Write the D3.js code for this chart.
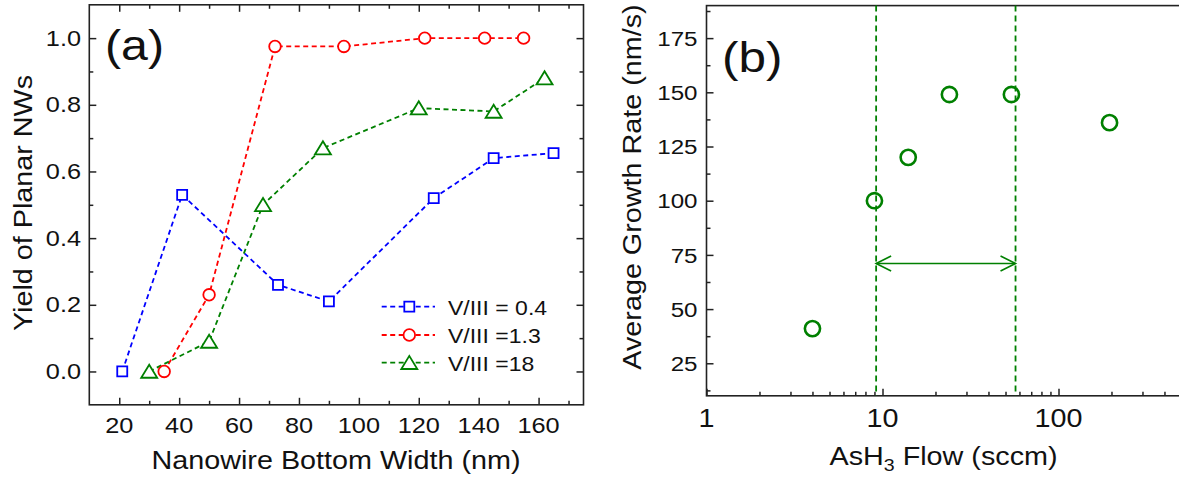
<!DOCTYPE html>
<html><head><meta charset="utf-8">
<script src="https://cdn.jsdelivr.net/npm/d3@7"></script>
<style>
body{margin:0;background:#fff}
svg{display:block;background:#fff}
text{font-family:"Liberation Sans",Arial,sans-serif;fill:#111}
</style>
</head><body>
<svg id="chart" width="1179" height="479"></svg>
<script>
// ---------- data: panel (a) ----------
const seriesNames = ["V/III = 0.4", "V/III =1.3", "V/III =18"];
const widthBlue  = [21, 41, 73, 90, 125, 145, 165];
const yieldBlue  = [0.0, 0.53, 0.26, 0.21, 0.52, 0.64, 0.655];
const widthRed   = [35, 50, 72, 95, 122, 142, 155];
const yieldRed   = [0.0, 0.23, 0.975, 0.975, 1.0, 1.0, 1.0];
const widthGreen = [30, 50, 68, 88, 120, 145, 162];
const yieldGreen = [0.0, 0.09, 0.50, 0.67, 0.79, 0.78, 0.88];
const xTicksA = [20, 40, 60, 80, 100, 120, 140, 160];
const yTicksA = [0.0, 0.2, 0.4, 0.6, 0.8, 1.0];

// ---------- data: panel (b) ----------
const ashFlow = [4, 9, 14, 24, 54, 195];
const growthRate = [41, 100, 120, 149, 149, 136];
const windowFlow = [9.2, 57];
const arrowRate = 71;
const xTicksB = [1, 10, 100];
const yTicksB = [25, 50, 75, 100, 125, 150, 175];

const SX = 1.15; // horizontal text stretch to match the reference's wide glyphs
const svg = d3.select("#chart");

function txt(g, x, y, s, size, anchor, rot) {
  const t = g.append("text")
    .attr("transform", `translate(${x},${y})` + (rot ? ` rotate(${rot})` : "") + ` scale(${SX},1)`)
    .attr("font-size", size)
    .attr("text-anchor", anchor || "start");
  if (s !== null) t.text(s);
  return t;
}

function tickAxis(g, axis, cls) {
  const a = g.append("g").attr("class", cls).call(axis);
  a.select(".domain").remove();
  a.selectAll("line").attr("stroke", "#222").attr("stroke-width", 1.5);
  a.selectAll("text").remove();
  return a;
}

// ================= Panel (a) =================
const xA = d3.scaleLinear().domain([10, 175]).range([89.3, 583.5]);
const yA = d3.scaleLinear().domain([-0.1, 1.1]).range([404.8, 4.8]);
const gA = svg.append("g");

const xMinorA = d3.range(30, 175, 20);
const yMinorA = [0.1, 0.3, 0.5, 0.7, 0.9];

// ticks inward on all 4 sides
tickAxis(gA.append("g").attr("transform", `translate(0,${yA(-0.1)})`), d3.axisBottom(xA).tickValues(xTicksA).tickSize(-7), "xb");
tickAxis(gA.append("g").attr("transform", `translate(0,${yA(-0.1)})`), d3.axisBottom(xA).tickValues(xMinorA).tickSize(-4), "xbm");
tickAxis(gA.append("g").attr("transform", `translate(0,${yA(1.1)})`), d3.axisTop(xA).tickValues(xTicksA).tickSize(-7), "xt");
tickAxis(gA.append("g").attr("transform", `translate(0,${yA(1.1)})`), d3.axisTop(xA).tickValues(xMinorA).tickSize(-4), "xtm");
tickAxis(gA.append("g").attr("transform", `translate(${xA(10)},0)`), d3.axisLeft(yA).tickValues(yTicksA).tickSize(-7), "yl");
tickAxis(gA.append("g").attr("transform", `translate(${xA(10)},0)`), d3.axisLeft(yA).tickValues(yMinorA).tickSize(-4), "ylm");
tickAxis(gA.append("g").attr("transform", `translate(${xA(175)},0)`), d3.axisRight(yA).tickValues(yTicksA).tickSize(-7), "yr");
tickAxis(gA.append("g").attr("transform", `translate(${xA(175)},0)`), d3.axisRight(yA).tickValues(yMinorA).tickSize(-4), "yrm");

gA.append("rect")
  .attr("x", xA(10)).attr("y", yA(1.1))
  .attr("width", xA(175) - xA(10)).attr("height", yA(-0.1) - yA(1.1))
  .attr("fill", "none").attr("stroke", "#222").attr("stroke-width", 1.6);

xTicksA.forEach(v => txt(gA, xA(v), 433, String(v), 22, "middle"));
yTicksA.forEach(v => txt(gA, 81, yA(v) + 7.5, d3.format(".1f")(v), 22, "end"));

txt(gA, 336, 469, "Nanowire Bottom Width (nm)", 25, "middle");
txt(gA, 32, 203, "Yield of Planar NWs", 25, "middle", -90);
txt(gA, 105, 60, "(a)", 42, "start");

const colors = ["#0000ff", "#ff0000", "#008000"];
const seriesA = [
  {x: widthBlue, y: yieldBlue, c: colors[0], m: "square"},
  {x: widthRed, y: yieldRed, c: colors[1], m: "circle"},
  {x: widthGreen, y: yieldGreen, c: colors[2], m: "triangle"}
];

function marker(g, type, x, y, c) {
  if (type === "square") {
    g.append("path").attr("d", d3.symbol(d3.symbolSquare, 100)())
      .attr("transform", `translate(${x},${y})`);
  } else if (type === "circle") {
    g.append("circle").attr("cx", x).attr("cy", y).attr("r", 5.8);
  } else {
    g.append("path").attr("d", "M0,-6.8L8,6.3L-8,6.3Z")
      .attr("transform", `translate(${x},${y})`);
  }
}

const line = d3.line();
seriesA.forEach(s => {
  gA.append("path")
    .attr("d", line(s.x.map((v, i) => [xA(v), yA(s.y[i])])))
    .attr("fill", "none").attr("stroke", s.c).attr("stroke-width", 1.8)
    .attr("stroke-dasharray", "5,3.5");
});
[0, 2, 1].forEach(k => {
  const s = seriesA[k];
  const mg = gA.append("g").attr("fill", "#fff").attr("stroke", s.c).attr("stroke-width", 1.8);
  s.x.forEach((v, i) => marker(mg, s.m, xA(v), yA(s.y[i]), s.c));
});

// legend
const legY = [306.7, 335, 362.7];
seriesA.forEach((s, k) => {
  const lg = gA.append("g");
  lg.append("line").attr("x1", 381.7).attr("x2", 435).attr("y1", legY[k]).attr("y2", legY[k])
    .attr("stroke", s.c).attr("stroke-width", 1.8).attr("stroke-dasharray", "5,3.5");
  const mg = lg.append("g").attr("fill", "#fff").attr("stroke", s.c).attr("stroke-width", 1.8);
  marker(mg, s.m, 409.3, legY[k], s.c);
  txt(lg, 448, legY[k] + 8, seriesNames[k], 20, "start");
});

// ================= Panel (b) =================
const xB = d3.scaleLog().domain([1, 1000]).range([706.5, 706.5 + 3 * 176]);
const yB = d3.scaleLinear().domain([10, 190]).range([395.8, 5.6]);
const gB = svg.append("g");

const xMinorB = [];
[1, 10, 100].forEach(d => { for (let k = 2; k <= 9; k++) xMinorB.push(d * k); });
const yMinorB = d3.range(12.5, 190, 25);

tickAxis(gB.append("g").attr("transform", `translate(0,${yB(10)})`), d3.axisBottom(xB).tickValues(xTicksB).tickSize(-7), "bxb");
tickAxis(gB.append("g").attr("transform", `translate(0,${yB(10)})`), d3.axisBottom(xB).tickValues(xMinorB).tickSize(-4), "bxbm");
tickAxis(gB.append("g").attr("transform", `translate(${xB(1)},0)`), d3.axisLeft(yB).tickValues(yTicksB).tickSize(-7), "byl");
tickAxis(gB.append("g").attr("transform", `translate(${xB(1)},0)`), d3.axisLeft(yB).tickValues(yMinorB).tickSize(-4), "bylm");

gB.append("rect")
  .attr("x", xB(1)).attr("y", yB(190))
  .attr("width", xB(1000) - xB(1)).attr("height", yB(10) - yB(190))
  .attr("fill", "none").attr("stroke", "#222").attr("stroke-width", 1.6);

xTicksB.forEach(v => txt(gB, xB(v), 427, String(v), 25, "middle"));
yTicksB.forEach(v => txt(gB, 697.5, yB(v) + 7.7, String(v), 21, "end"));

const xt = txt(gB, 943.5, 465, null, 25, "middle");
xt.append("tspan").text("AsH");
xt.append("tspan").attr("font-size", 17).attr("dy", 6).text("3");
xt.append("tspan").attr("dy", -6).text(" Flow (sccm)");
txt(gB, 641, 187, "Average Growth Rate (nm/s)", 25, "middle", -90);
txt(gB, 722, 72, "(b)", 43, "start");

const green = "#008000";
windowFlow.forEach(f => {
  gB.append("line").attr("x1", xB(f)).attr("x2", xB(f)).attr("y1", yB(190)).attr("y2", yB(10))
    .attr("stroke", green).attr("stroke-width", 1.8).attr("stroke-dasharray", "6,4");
});
const ax0 = xB(windowFlow[0]), ax1 = xB(windowFlow[1]), ay = yB(arrowRate);
gB.append("line").attr("x1", ax0).attr("x2", ax1).attr("y1", ay).attr("y2", ay)
  .attr("stroke", green).attr("stroke-width", 1.6);
gB.append("path").attr("d", `M${ax0 + 15},${ay - 7.5}L${ax0},${ay}L${ax0 + 15},${ay + 7.5}`)
  .attr("fill", "none").attr("stroke", green).attr("stroke-width", 1.6);
gB.append("path").attr("d", `M${ax1 - 15},${ay - 7.5}L${ax1},${ay}L${ax1 - 15},${ay + 7.5}`)
  .attr("fill", "none").attr("stroke", green).attr("stroke-width", 1.6);

gB.append("g").selectAll("circle").data(ashFlow).join("circle")
  .attr("cx", d => xB(d)).attr("cy", (d, i) => yB(growthRate[i])).attr("r", 7.6)
  .attr("fill", "none").attr("stroke", green).attr("stroke-width", 2.6);
</script>
</body></html>
